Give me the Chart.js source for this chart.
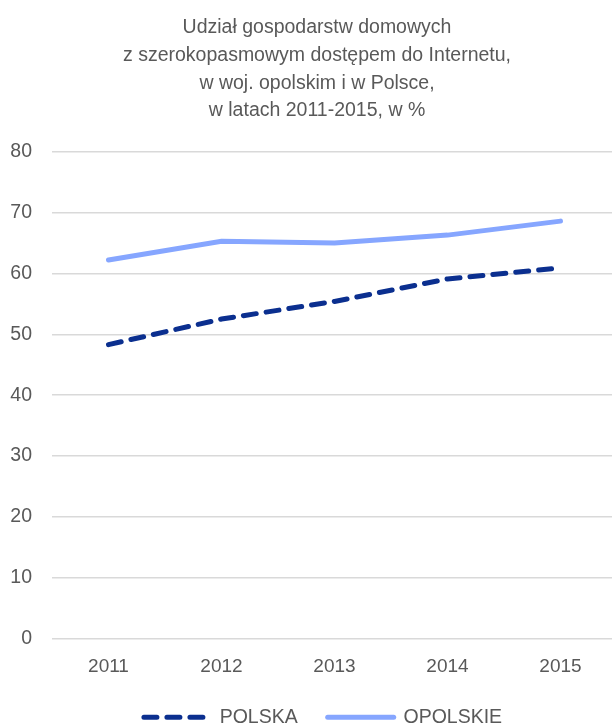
<!DOCTYPE html>
<html>
<head>
<meta charset="utf-8">
<script src="https://cdn.jsdelivr.net/npm/chart.js@4"></script>
<style>
  html, body { margin: 0; padding: 0; background: #fff; overflow: hidden; }
  #wrap { width: 634px; height: 737px; }
</style>
</head>
<body>
<div id="wrap"><canvas id="chart"></canvas></div>
<script>
// Dane
const years = ['2011', '2012', '2013', '2014', '2015'];
const polska = [48.3, 52.5, 55.4, 59.1, 60.9];
const opolskie = [62.2, 65.3, 65.0, 66.3, 68.6];
const titleLines = [
    'Udział gospodarstw domowych',
    'z szerokopasmowym dostępem do Internetu,',
    'w woj. opolskim i w Polsce,',
    'w latach 2011-2015, w %'
];

const fontFamily = '"Liberation Sans", Arial, sans-serif';
const grey = '#595959';

// przesunięcie legendy w prawo
const legendShift = {
    id: 'legendShift',
    afterLayout(chart) {
        if (chart.legend) {
            chart.legend.left += 6;
            chart.legend.right += 6;
        }
    }
};

const ctx = document.getElementById('chart').getContext('2d');
new Chart(ctx, {
    type: 'line',
    data: {
        labels: years,
        datasets: [
            {
                label: 'POLSKA',
                data: polska,
                borderColor: '#0B2F8F',
                backgroundColor: '#0B2F8F',
                borderWidth: 5,
                borderDash: [13, 10],
                borderCapStyle: 'round',
                pointRadius: 0,
                tension: 0
            },
            {
                label: 'OPOLSKIE',
                data: opolskie,
                borderColor: '#86A6FF',
                backgroundColor: '#86A6FF',
                borderWidth: 5,
                borderCapStyle: 'round',
                pointRadius: 0,
                tension: 0
            }
        ]
    },
    plugins: [legendShift],
    options: {
        responsive: true,
        maintainAspectRatio: false,
        animation: false,
        layout: { padding: 0 },
        plugins: {
            title: {
                display: true,
                text: titleLines,
                color: grey,
                font: { family: fontFamily, size: 19.5, weight: 'normal', lineHeight: 1.42 },
                padding: { top: 14, bottom: 27 }
            },
            legend: {
                position: 'bottom',
                labels: {
                    usePointStyle: true,
                    pointStyle: 'line',
                    pointStyleWidth: 66,
                    color: grey,
                    font: { family: fontFamily, size: 19.5 },
                    padding: 30,
                    // linia przerywana w legendzie
                    generateLabels: function(chart) {
                        const items = Chart.defaults.plugins.legend.labels.generateLabels(chart);
                        items.forEach((item, i) => {
                            const ds = chart.data.datasets[i];
                            item.lineDash = ds.borderDash || [];
                            item.lineWidth = 5;
                            item.lineCap = 'round';
                            item.strokeStyle = ds.borderColor;
                            item.pointStyle = 'line';
                        });
                        return items;
                    }
                }
            },
            tooltip: { enabled: false }
        },
        scales: {
            x: {
                offset: true,
                grid: { display: false, drawTicks: false },
                border: { display: false },
                ticks: { color: grey, font: { family: fontFamily, size: 19 }, padding: 17 },
                afterFit: function(scale) { scale.height = 39; }
            },
            y: {
                min: 0,
                max: 80,
                ticks: { stepSize: 10, color: grey, font: { family: fontFamily, size: 19.5 }, padding: 20 },
                grid: { color: '#D9D9D9', lineWidth: 1.5, drawTicks: false },
                border: { display: false },
                afterFit: function(scale) { scale.width = 52; }
            },
            // pusta oś po prawej, tylko do marginesu
            yRight: {
                position: 'right',
                grid: { display: false },
                border: { display: false },
                ticks: { display: false },
                afterFit: function(scale) { scale.width = 17; }
            }
        }
    }
});
</script>
</body>
</html>
